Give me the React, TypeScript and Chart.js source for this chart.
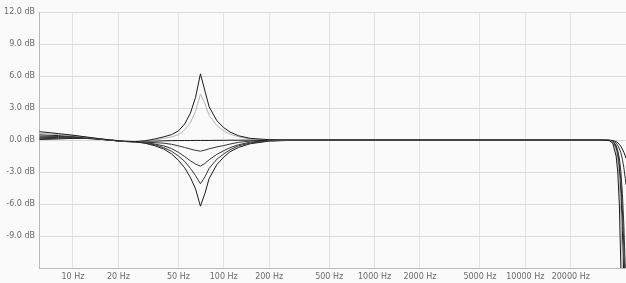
import React, { useEffect, useRef } from "react";
import { Chart, registerables } from "chart.js";

Chart.register(...registerables);

const FREQ = [6, 8, 10, 12, 15, 18, 22, 26, 30, 35, 40, 45, 50, 55, 60, 65, 70, 75, 80, 90, 100, 110, 125, 150, 200, 300, 500, 1000, 2000, 5000, 10000, 20000, 30000, 36000, 38000, 40000, 41000, 42000, 43000, 44000, 45000, 46000, 46500];

const BOOST_6 = [0.78, 0.6, 0.45, 0.3, 0.12, 0.0, -0.12, -0.15, -0.08, 0.1, 0.3, 0.5, 0.85, 1.5, 2.5, 4.0, 6.2, 4.6, 3.1, 1.8, 1.15, 0.75, 0.4, 0.15, 0.03, 0, 0, 0, 0, 0, 0, 0, 0, -0.05, -0.3, -1.5, -3, -6, -12, -20, -30, -40, -45];
const BOOST_4 = [0.62, 0.5, 0.4, 0.28, 0.12, 0.0, -0.12, -0.15, -0.1, 0.02, 0.15, 0.3, 0.5, 0.95, 1.6, 2.7, 4.3, 3.4, 2.3, 1.35, 0.85, 0.55, 0.3, 0.1, 0.02, 0, 0, 0, 0, 0, 0, 0, 0, -0.05, -0.2, -1.0, -2.0, -3.8, -7, -12, -20, -30, -35];
const FLAT = [0.48, 0.42, 0.36, 0.26, 0.1, -0.02, -0.13, -0.15, -0.12, -0.1, -0.08, -0.06, -0.05, -0.05, -0.05, -0.04, -0.04, -0.04, -0.04, -0.03, -0.03, -0.02, -0.02, -0.01, -0.01, 0, 0, 0, 0, 0, 0, 0, 0, -0.05, -0.2, -0.8, -1.6, -2.8, -5, -8.5, -13, -20, -25];
const CUT_1 = [0.35, 0.33, 0.3, 0.22, 0.09, -0.02, -0.13, -0.16, -0.2, -0.25, -0.3, -0.4, -0.55, -0.7, -0.85, -0.97, -1.05, -0.95, -0.82, -0.65, -0.52, -0.38, -0.22, -0.1, -0.03, 0, 0, 0, 0, 0, 0, 0, 0, -0.03, -0.15, -0.6, -1.2, -2.2, -3.8, -6.5, -10, -14, -18];
const CUT_2 = [0.22, 0.24, 0.25, 0.2, 0.08, -0.03, -0.14, -0.17, -0.25, -0.38, -0.55, -0.8, -1.15, -1.55, -1.95, -2.25, -2.45, -2.2, -1.85, -1.35, -1.0, -0.72, -0.45, -0.2, -0.05, 0, 0, 0, 0, 0, 0, 0, 0, -0.03, -0.12, -0.5, -1.0, -1.7, -3, -5, -8, -12, -15];
const CUT_4 = [0.12, 0.16, 0.2, 0.18, 0.08, -0.03, -0.14, -0.17, -0.28, -0.45, -0.72, -1.05, -1.5, -2.0, -2.65, -3.35, -4.1, -3.45, -2.65, -1.8, -1.3, -0.92, -0.55, -0.28, -0.08, -0.01, 0, 0, 0, 0, 0, 0, 0, -0.02, -0.08, -0.3, -0.5, -0.8, -1.2, -1.8, -2.6, -3.6, -4.2];
const CUT_6 = [0.05, 0.1, 0.15, 0.15, 0.07, -0.03, -0.14, -0.18, -0.3, -0.55, -0.85, -1.3, -1.9, -2.6, -3.5, -4.6, -6.2, -5.0, -3.6, -2.3, -1.6, -1.1, -0.7, -0.35, -0.1, -0.02, 0, 0, 0, 0, 0, 0, 0, -0.02, -0.05, -0.15, -0.25, -0.4, -0.6, -0.85, -1.15, -1.5, -1.7];

const SERIES = [
  { name: "+6 dB", values: BOOST_6, color: "#1a1a1a" },
  { name: "+4 dB", values: BOOST_4, color: "#b4b4b4" },
  { name: "0 dB", values: FLAT, color: "#1a1a1a" },
  { name: "-1 dB", values: CUT_1, color: "#333333" },
  { name: "-2.5 dB", values: CUT_2, color: "#333333" },
  { name: "-4 dB", values: CUT_4, color: "#333333" },
  { name: "-6 dB", values: CUT_6, color: "#1a1a1a" },
];

const X_TICKS = [10, 20, 50, 100, 200, 500, 1000, 2000, 5000, 10000, 20000];
const Y_TICKS = [-12, -9, -6, -3, 0, 3, 6, 9, 12];

export default function App() {
  const ref = useRef<HTMLCanvasElement>(null);
  useEffect(() => {
    document.body.style.margin = "0";
    const ctx = ref.current!;
    const chart = new Chart(ctx, {
      type: "line",
      data: {
        datasets: SERIES.map((s) => ({
          label: s.name,
          data: FREQ.map((f, i) => ({ x: f, y: s.values[i] })),
          borderColor: s.color,
          borderWidth: 1,
          pointRadius: 0,
          tension: 0,
          fill: false,
        })),
      },
      options: {
        animation: false,
        responsive: false,
        maintainAspectRatio: false,
        layout: { padding: { top: 12, right: 0, left: 0, bottom: 0 } },
        plugins: { legend: { display: false }, tooltip: { enabled: false } },
        scales: {
          x: {
            type: "logarithmic",
            min: 5.95,
            max: 46500,
            afterBuildTicks: (axis: any) => {
              axis.ticks = X_TICKS.map((v) => ({ value: v }));
            },
            afterFit: (axis: any) => {
              axis.height = 15;
            },
            ticks: {
              autoSkip: false,
              maxRotation: 0,
              padding: 4,
              color: "#6a6a6a",
              font: { family: "DejaVu Sans", size: 8 },
              callback: (v: any) => `${v} Hz`,
            },
            grid: { color: "#e2e2e2", drawTicks: false, lineWidth: 1 },
            border: { color: "#b8b8b8" },
          },
          y: {
            min: -12,
            max: 12,
            afterBuildTicks: (axis: any) => {
              axis.ticks = Y_TICKS.map((v) => ({ value: v }));
            },
            afterFit: (axis: any) => {
              axis.width = 39;
            },
            ticks: {
              padding: 4,
              color: "#6a6a6a",
              font: { family: "DejaVu Sans", size: 8 },
              callback: (v: any) => (v === -12 ? "" : `${Number(v).toFixed(1)} dB`),
            },
            grid: { color: "#d9d9d9", drawTicks: false, lineWidth: 1 },
            border: { color: "#b8b8b8" },
          },
        },
      },
    });
    return () => chart.destroy();
  }, []);
  return (
    <div style={{ width: 626, height: 283, background: "#fafafa" }}>
      <canvas ref={ref} width={626} height={283} style={{ display: "block" }} />
    </div>
  );
}
